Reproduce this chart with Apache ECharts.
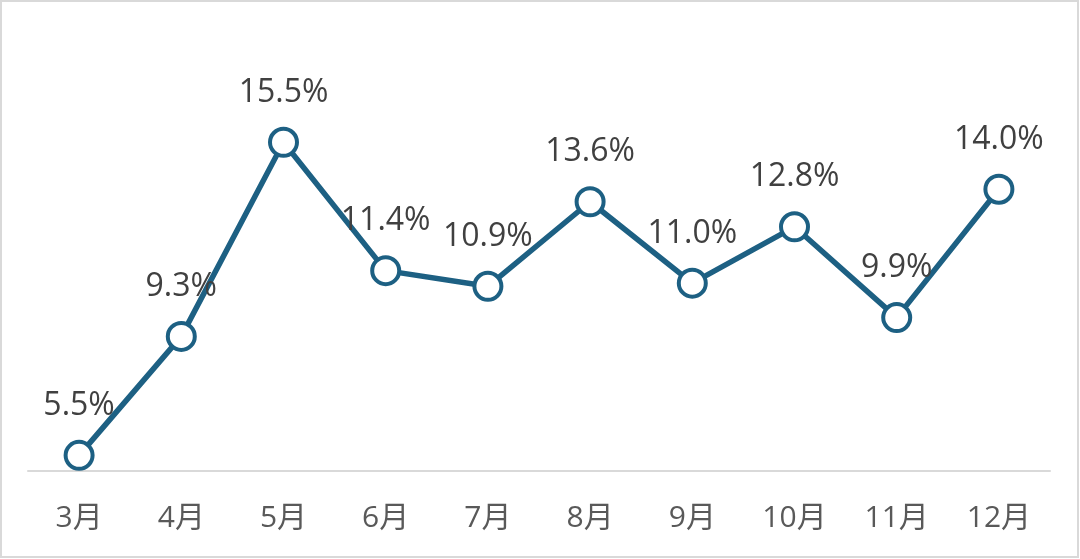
<!DOCTYPE html>
<html>
<head>
<meta charset="utf-8">
<script src="https://cdn.jsdelivr.net/npm/echarts@6/dist/echarts.min.js"></script>
<style>
html, body { margin: 0; padding: 0; background: #fff; }
#chart { width: 1080px; height: 559px; }
</style>
</head>
<body>
<div id="chart"></div>
<script>
var months = ['3月', '4月', '5月', '6月', '7月', '8月', '9月', '10月', '11月', '12月'];
var rates = [5.5, 9.3, 15.5, 11.4, 10.9, 13.6, 11.0, 12.8, 9.9, 14.0];

var chart = echarts.init(document.getElementById('chart'));

var option = {
    backgroundColor: '#fff',
    animation: false,
    graphic: [
        {
            type: 'rect',
            shape: { x: 1, y: 1, width: 1077, height: 556 },
            style: { fill: 'none', stroke: '#d9d9d9', lineWidth: 2 },
            silent: true
        }
    ],
    grid: { left: 28, right: 30, top: 64, bottom: 88 },
    xAxis: {
        type: 'category',
        data: months,
        axisLine: { lineStyle: { color: '#d9d9d9', width: 2 } },
        axisTick: { show: false },
        axisLabel: {
            margin: 32,
            fontSize: 30,
            color: '#595959',
            fontFamily: '"Open Sans", "Noto Sans CJK SC", sans-serif'
        }
    },
    yAxis: {
        type: 'value',
        min: 5,
        max: 18,
        show: false
    },
    series: [
        {
            type: 'line',
            data: rates,
            symbol: 'circle',
            symbolSize: 27,
            lineStyle: { color: '#1d6083', width: 5.5 },
            itemStyle: { color: '#fff', borderColor: '#1d6083', borderWidth: 4 },
            label: {
                show: true,
                position: 'top',
                distance: 18,
                fontSize: 32,
                color: '#404040',
                fontFamily: '"Open Sans", sans-serif',
                formatter: function (p) { return p.value.toFixed(1) + '%'; }
            },
            z: 3
        }
    ]
};

chart.setOption(option);
</script>
</body>
</html>
